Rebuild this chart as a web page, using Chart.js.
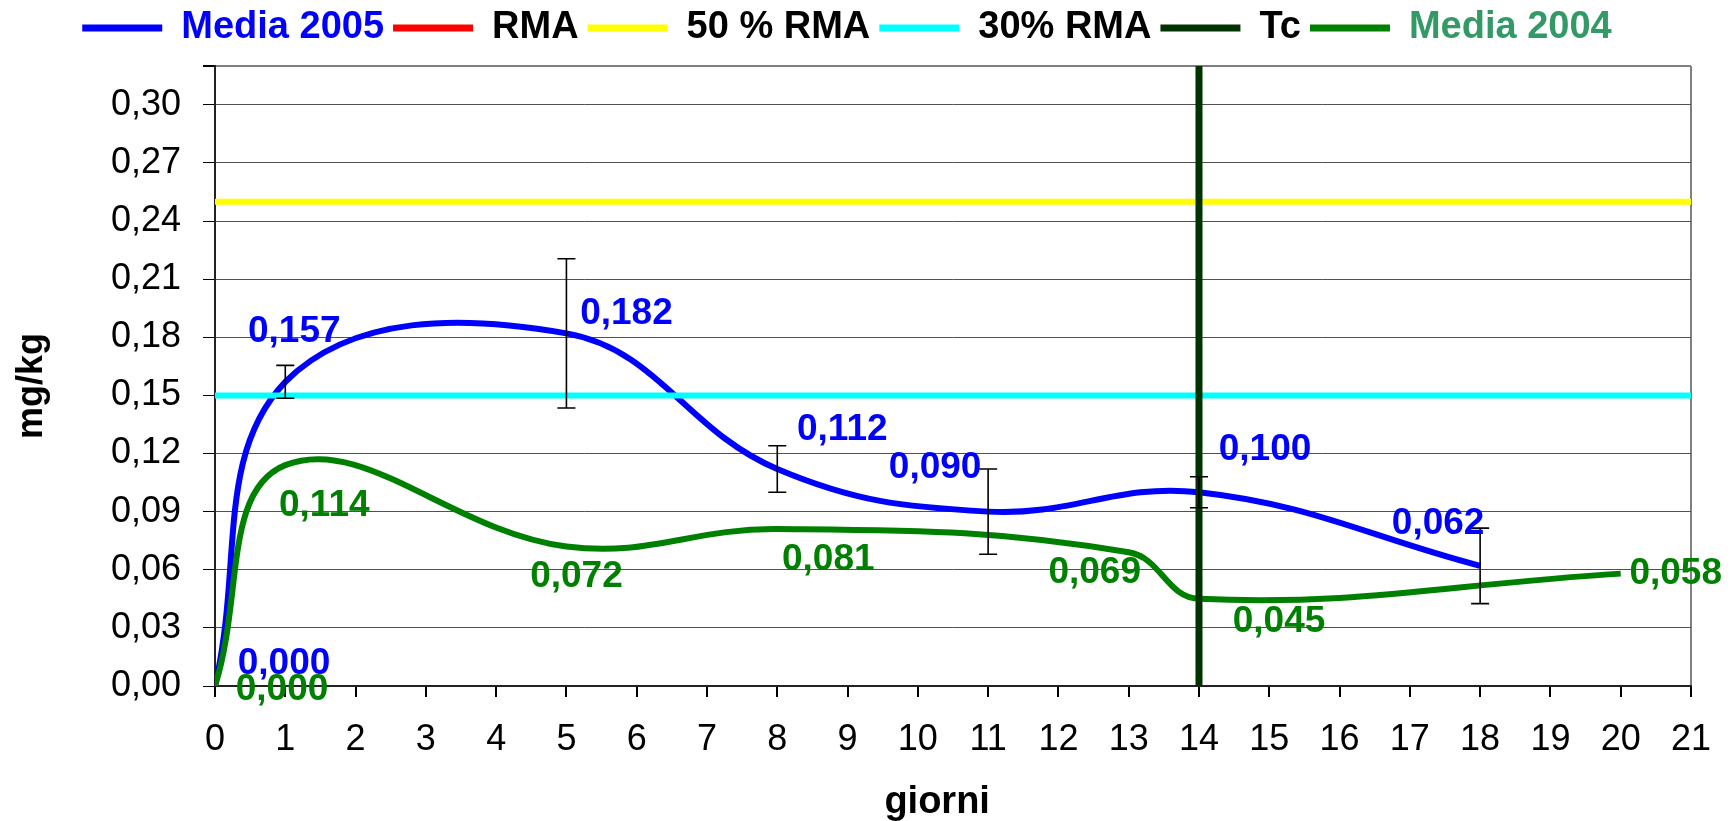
<!DOCTYPE html>
<html>
<head>
<meta charset="utf-8">
<script src="https://cdn.jsdelivr.net/npm/chart.js@4/dist/chart.umd.min.js"></script>
<style>
  body { margin: 0; background: #fff; }
</style>
</head>
<body>
<canvas id="myChart" width="1732" height="821"></canvas>
<script>
// dati
var giorni2005 = [0, 1, 5, 8, 11, 14, 18];
var media2005 = [0.000, 0.157, 0.182, 0.112, 0.090, 0.100, 0.062];
var errore2005 = [0, 0.0085, 0.0385, 0.012, 0.022, 0.008, 0.0195];

var giorni2004 = [0, 1, 5, 8, 13, 14, 20];
var media2004 = [0.000, 0.114, 0.072, 0.081, 0.069, 0.045, 0.058];

var rma = 0.5;
var rma50 = 0.25;
var rma30 = 0.15;
var tc = 14;

var giorniMin = 0, giorniMax = 21;
var yMax = 0.32, yStep = 0.03, yTacche = 10;

function punti(xs, ys) {
  return xs.map(function (x, i) { return {x: x, y: ys[i]}; });
}
function orizzontale(v) {
  return [{x: giorniMin, y: v}, {x: giorniMax, y: v}];
}
function virgola(v, d) {
  return v.toFixed(d).replace('.', ',');
}

// posizione delle etichette rispetto al punto (px)
var spostaBlu = [[69, -22], [9, -50], [60, -20], [65, -39], [-53, -44], [66, -42], [-42, -42]];
var spostaVerde = [[67, 4], [39, 41], [10, 30], [51, 31], [-34, 20], [80, 23], [55, 0]];

var etichette = {
  id: 'etichette',
  beforeLayout: function (chart) {
    // un po' di spazio sotto la legenda
    var lg = chart.legend;
    if (lg && !lg._allungata) {
      var fit = lg.fit;
      lg.fit = function () { fit.call(this); this.height += 9; };
      lg._allungata = true;
    }
  },
  afterDatasetsDraw: function (chart) {
    var ctx = chart.ctx, sx = chart.scales.x, sy = chart.scales.y;
    ctx.save();
    // barre di errore
    ctx.strokeStyle = '#000';
    ctx.lineWidth = 1.6;
    giorni2005.forEach(function (g, i) {
      if (!errore2005[i]) return;
      var px = sx.getPixelForValue(g);
      var top = sy.getPixelForValue(media2005[i] + errore2005[i]);
      var bot = sy.getPixelForValue(media2005[i] - errore2005[i]);
      ctx.beginPath();
      ctx.moveTo(px, top); ctx.lineTo(px, bot);
      ctx.moveTo(px - 9, top); ctx.lineTo(px + 9, top);
      ctx.moveTo(px - 9, bot); ctx.lineTo(px + 9, bot);
      ctx.stroke();
    });
    ctx.font = 'bold 37px "Liberation Sans", Arial, sans-serif';
    ctx.textAlign = 'center';
    ctx.textBaseline = 'middle';
    ctx.fillStyle = '#0000FF';
    giorni2005.forEach(function (g, i) {
      ctx.fillText(virgola(media2005[i], 3),
        sx.getPixelForValue(g) + spostaBlu[i][0],
        sy.getPixelForValue(media2005[i]) + spostaBlu[i][1]);
    });
    ctx.fillStyle = '#008000';
    giorni2004.forEach(function (g, i) {
      ctx.fillText(virgola(media2004[i], 3),
        sx.getPixelForValue(g) + spostaVerde[i][0],
        sy.getPixelForValue(media2004[i]) + spostaVerde[i][1]);
    });
    ctx.restore();
  }
};

Chart.defaults.font.family = '"Liberation Sans", Arial, sans-serif';
Chart.defaults.color = '#000';

var ctx = document.getElementById('myChart').getContext('2d');
var myChart = new Chart(ctx, {
  type: 'line',
  data: {
    datasets: [{
        label: 'Media 2005',
        data: punti(giorni2005, media2005),
        borderColor: '#0000FF',
        backgroundColor: '#0000FF',
        borderWidth: 6,
        tension: 0.4,
        order: 4,
        testo: '#0000FF'
      }, {
        label: 'RMA',
        data: orizzontale(rma),
        borderColor: '#FF0000',
        backgroundColor: '#FF0000',
        borderWidth: 6,
        order: 5,
        testo: '#000000'
      }, {
        label: '50 % RMA',
        data: orizzontale(rma50),
        borderColor: '#FFFF00',
        backgroundColor: '#FFFF00',
        borderWidth: 6,
        order: 2,
        testo: '#000000'
      }, {
        label: '30% RMA',
        data: orizzontale(rma30),
        borderColor: '#00FFFF',
        backgroundColor: '#00FFFF',
        borderWidth: 6,
        order: 1,
        testo: '#000000'
      }, {
        label: 'Tc',
        data: [{x: tc, y: 0}, {x: tc, y: yMax}],
        borderColor: '#003300',
        backgroundColor: '#003300',
        borderWidth: 7,
        order: 0,
        testo: '#000000'
      }, {
        label: 'Media 2004',
        data: punti(giorni2004, media2004),
        borderColor: '#008000',
        backgroundColor: '#008000',
        borderWidth: 6,
        tension: 0.4,
        order: 3,
        testo: '#339966'
      }
    ]
  },
  options: {
    responsive: false,
    animation: false,
    elements: { point: { radius: 0 } },
    layout: { padding: { top: 0, right: 38, left: 0, bottom: 0 } },
    plugins: {
      tooltip: { enabled: false },
      legend: {
        position: 'top',
        labels: {
          boxWidth: 80,
          boxHeight: 7,
          padding: 9,
          font: { size: 38, weight: 'bold' },
          generateLabels: function (chart) {
            return chart.data.datasets.map(function (ds, i) {
              return {
                text: ds.label,
                fillStyle: ds.borderColor,
                strokeStyle: ds.borderColor,
                lineWidth: 0,
                fontColor: ds.testo,
                hidden: false,
                datasetIndex: i
              };
            });
          }
        }
      }
    },
    scales: {
      x: {
        type: 'linear',
        min: giorniMin,
        max: giorniMax,
        afterFit: function (s) { s.height = 135; },
        ticks: { stepSize: 1, autoSkip: false, maxRotation: 0, padding: 21, font: { size: 36 } },
        grid: {
          color: function (c) { return c.tick && c.tick.value === giorniMax ? '#808080' : 'rgba(0,0,0,0)'; },
          lineWidth: 2,
          tickColor: '#000',
          tickLength: 11
        },
        border: { color: '#222', width: 2 },
        title: { display: true, text: 'giorni   ', font: { size: 38, weight: 'bold' }, padding: { top: 0, bottom: -4 } }
      },
      y: {
        min: 0,
        max: yMax,
        afterFit: function (s) { s.width = 215; },
        afterBuildTicks: function (s) {
          var t = [];
          for (var i = 0; i <= yTacche; i++) t.push({value: i * yStep});
          t.push({value: yMax});
          s.ticks = t;
        },
        ticks: {
          autoSkip: false,
          padding: 22,
          font: { size: 36 },
          callback: function (v) { return Math.abs(v - yMax) < 1e-9 ? '' : virgola(v, 2); }
        },
        grid: {
          color: function (c) { return c.tick && Math.abs(c.tick.value - yMax) < 1e-9 ? '#808080' : '#505050'; },
          lineWidth: function (c) { return c.tick && Math.abs(c.tick.value - yMax) < 1e-9 ? 2 : 1; },
          tickColor: '#000',
          tickLength: 12
        },
        border: { color: '#222', width: 2 },
        title: { display: true, text: 'mg/kg  ', font: { size: 36, weight: 'bold' }, padding: { top: 10, bottom: 0 } }
      }
    }
  },
  plugins: [etichette]
});
</script>
</body>
</html>
